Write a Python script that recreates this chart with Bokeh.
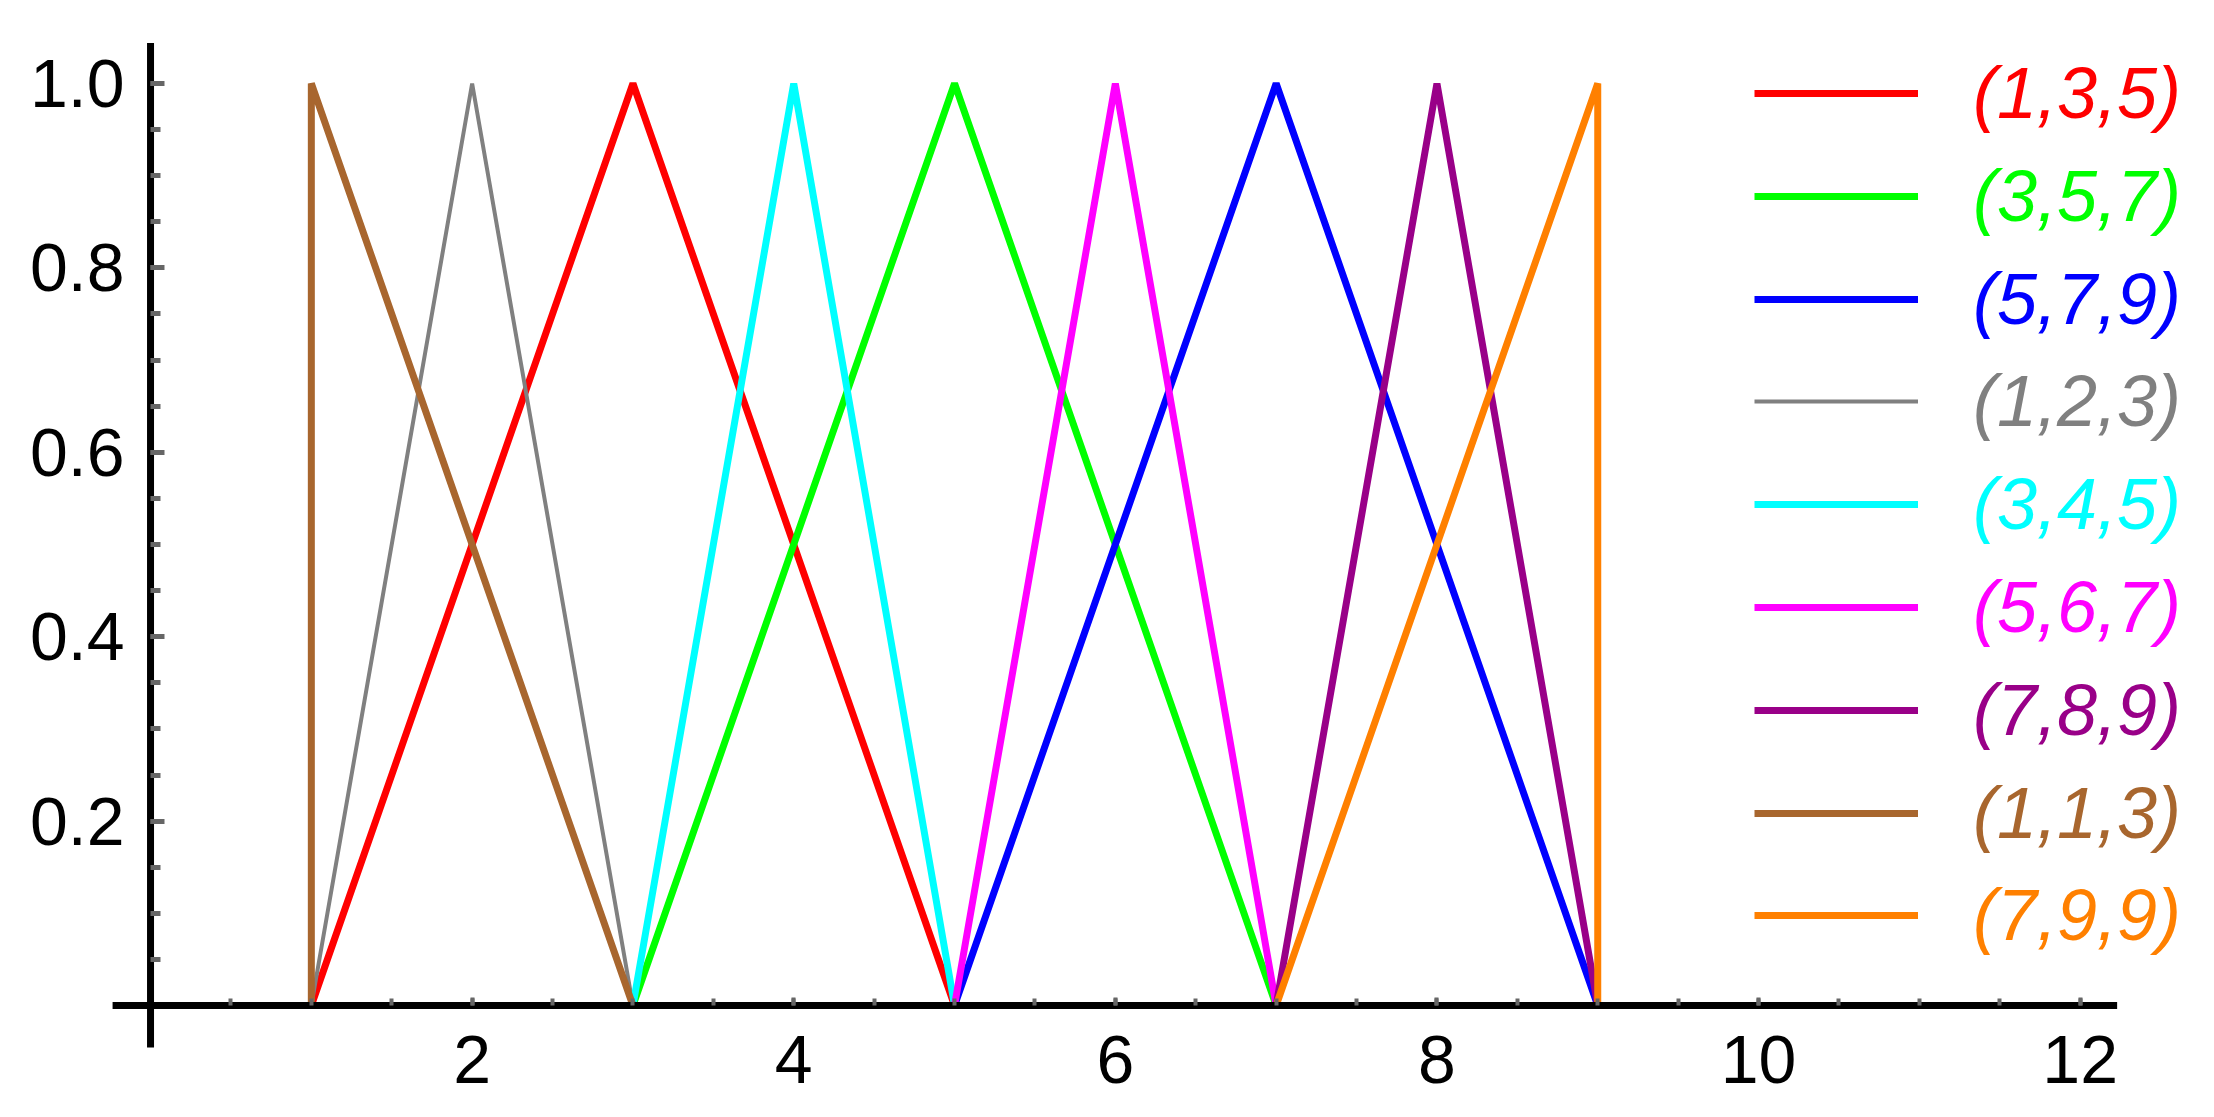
from bokeh.plotting import figure
from bokeh.models import (Range1d, FixedTicker, NumeralTickFormatter, Legend, LegendItem)
from bokeh.embed import file_html
from bokeh.resources import INLINE

# Triangular fuzzy numbers (a, b, c)
names = ["(1,3,5)", "(3,5,7)", "(5,7,9)", "(1,2,3)", "(3,4,5)",
         "(5,6,7)", "(7,8,9)", "(1,1,3)", "(7,9,9)"]
lows = [1, 3, 5, 1, 3, 5, 7, 1, 7]
peaks = [3, 5, 7, 2, 4, 6, 8, 1, 9]
highs = [5, 7, 9, 3, 5, 7, 9, 3, 9]
membership = [0, 1, 0]
colors = ["#FF0000", "#00FF00", "#0000FF", "#808080", "#00FFFF",
          "#FF00FF", "#990088", "#A8662E", "#FF8000"]
widths = [7, 7, 7, 4, 7, 7, 7, 7, 7]

x_major = [2, 4, 6, 8, 10, 12]
x_minor = [i * 0.5 for i in range(1, 25)]
y_major = [0.2, 0.4, 0.6, 0.8, 1.0]
y_minor = [i * 0.05 for i in range(1, 21)]
x_axis_extent = [-0.236, 12.23]
y_axis_extent = [-0.0456, 1.044]

FONT = "Liberation Sans"
W, H = 2198, 1101

p = figure(width=W, height=H,
           x_range=Range1d(-0.933, 12.736), y_range=Range1d(-0.1041, 1.090),
           output_backend="svg", toolbar_location=None,
           min_border_left=0, min_border_right=0,
           min_border_top=0, min_border_bottom=0)
p.outline_line_color = None
p.grid.visible = False
p.background_fill_color = "white"
p.border_fill_color = "white"

renderers = []
for a, b, c, col, w in zip(lows, peaks, highs, colors, widths):
    r = p.line([a, b, c], membership, line_color=col, line_width=w)
    renderers.append(r)

# Axis lines limited to the reference's extent
p.segment(x0=[x_axis_extent[0], 0], y0=[0, y_axis_extent[0]],
          x1=[x_axis_extent[1], 0], y1=[0, y_axis_extent[1]],
          line_color="black", line_width=7)

# Axes crossing at the origin (ticks and labels)
xa = p.xaxis[0]
xa.fixed_location = 0
xa.ticker = FixedTicker(ticks=x_major, minor_ticks=x_minor)
xa.axis_line_color = None
xa.major_tick_in = 8
xa.major_tick_out = 0
xa.minor_tick_in = 7
xa.minor_tick_out = 0
xa.major_tick_line_color = "#666666"
xa.minor_tick_line_color = "#666666"
xa.major_tick_line_width = 4
xa.minor_tick_line_width = 4
xa.major_label_text_font = FONT
xa.major_label_text_font_size = "68px"
xa.major_label_text_color = "black"
xa.major_label_standoff = 30

ya = p.yaxis[0]
ya.fixed_location = 0
ya.ticker = FixedTicker(ticks=y_major, minor_ticks=y_minor)
ya.formatter = NumeralTickFormatter(format="0.0")
ya.axis_line_color = None
ya.major_tick_in = 14
ya.major_tick_out = 0
ya.minor_tick_in = 10
ya.minor_tick_out = 0
ya.major_tick_line_color = "#666666"
ya.minor_tick_line_color = "#666666"
ya.major_tick_line_width = 5
ya.minor_tick_line_width = 5
ya.major_label_text_font = FONT
ya.major_label_text_font_size = "68px"
ya.major_label_text_color = "black"
ya.major_label_standoff = 26

# One legend entry per colour, so each label keeps its own colour
for i, (nm, col, r) in enumerate(zip(names, colors, renderers)):
    row_center_from_top = 94 + i * 102.8
    y_loc = H - row_center_from_top - 40
    leg = Legend(items=[LegendItem(label=nm, renderers=[r])],
                 location=(1754, y_loc),
                 glyph_width=164, glyph_height=80, label_height=80,
                 label_standoff=55, padding=0, margin=0, spacing=0,
                 border_line_color=None, background_fill_alpha=0,
                 label_text_font=FONT, label_text_font_style="italic",
                 label_text_font_size="72px", label_text_color=col)
    p.add_layout(leg)

open("out.html", "w").write(file_html(p, INLINE))
